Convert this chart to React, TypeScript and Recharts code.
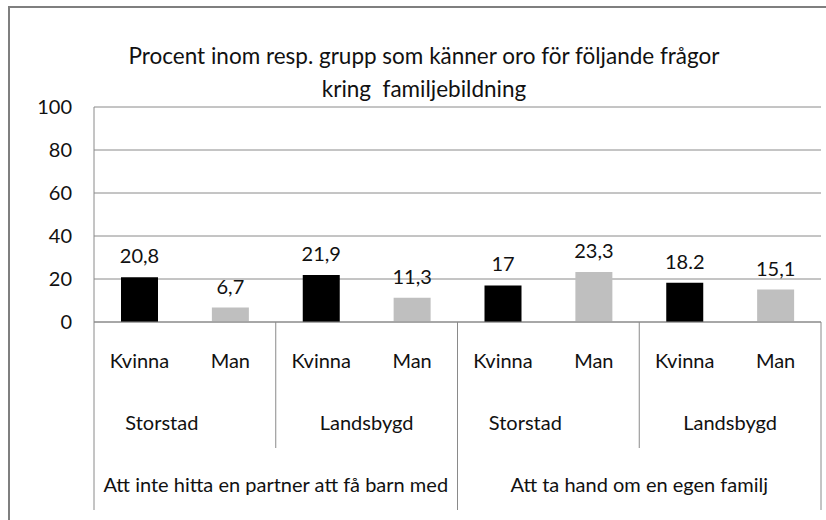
import React from "react";
import { BarChart, Bar, XAxis, YAxis, CartesianGrid, Cell, LabelList } from "recharts";

const genders = ["Kvinna", "Man", "Kvinna", "Man", "Kvinna", "Man", "Kvinna", "Man"];
const areas = ["Storstad", "Landsbygd", "Storstad", "Landsbygd"];
const topics = ["Att inte hitta en partner att få barn med", "Att ta hand om en egen familj"];
const values = [20.8, 6.7, 21.9, 11.3, 17, 23.3, 18.2, 15.1];
const valueLabels = ["20,8", "6,7", "21,9", "11,3", "17", "23,3", "18.2", "15,1"];
const yTicks = [0, 20, 40, 60, 80, 100];
const titleLines = ["Procent inom resp. grupp som känner oro för följande frågor", "kring  familjebildning"];

const W = 826;
const H = 520;
const MARGIN = { top: 107, right: 5, bottom: 0, left: 34 };
const XAXIS_H = 198;
const YAXIS_W = 60;
const PLOT_W = W - MARGIN.left - MARGIN.right - YAXIS_W;
const FONT = "Lato, 'Open Sans', sans-serif";
const FS = 20;
const GRID = "#8a8a8a";
const COLORS: Record<string, string> = { Kvinna: "#000000", Man: "#bfbfbf" };

const data = values.map((v, i) => ({
  key: String(i),
  gender: genders[i],
  area: areas[Math.floor(i / 2)],
  topic: topics[Math.floor(i / 4)],
  value: v,
  label: valueLabels[i],
}));

function XTick(props: any) {
  const { x, y, index } = props;
  const i: number = index ?? props.payload?.index ?? 0;
  const d = data[i];
  const bw = PLOT_W / data.length;
  const txt = { fontFamily: FONT, fontSize: FS, fill: "#111" } as const;
  return (
    <g>
      <text x={x} y={y + 38} textAnchor="middle" dominantBaseline="central" {...txt}>
        {d.gender}
      </text>
      {i % 2 === 0 && (
        <text
          x={x + bw / 2 + (d.area === "Storstad" ? -23 : 0)}
          y={y + 100}
          textAnchor="middle"
          dominantBaseline="central"
          {...txt}
        >
          {d.area}
        </text>
      )}
      {i % 4 === 0 && (
        <text x={x + bw * 1.5} y={y + 162} textAnchor="middle" dominantBaseline="central" {...txt}>
          {d.topic}
        </text>
      )}
      {i % 2 === 0 && (
        <line x1={x - bw / 2} x2={x - bw / 2} y1={y} y2={y + (i % 4 === 0 ? 188 : 126)} stroke={GRID} strokeWidth={1} />
      )}
      {i === data.length - 1 && (
        <line x1={x + bw / 2} x2={x + bw / 2} y1={y} y2={y + 188} stroke={GRID} strokeWidth={1} />
      )}
    </g>
  );
}

function ValueLabel(props: any) {
  const { x, y, width, value } = props;
  return (
    <text
      x={x + width / 2}
      y={y - 22}
      textAnchor="middle"
      dominantBaseline="central"
      fontFamily={FONT}
      fontSize={FS}
      fill="#111"
    >
      {value}
    </text>
  );
}

export default function App() {
  return (
    <div style={{ position: "absolute", left: 0, top: 0, width: W, height: H, overflow: "hidden", background: "#fff" }}>
      <style>{`body{margin:0;overflow:hidden}`}</style>
      <div
        style={{
          position: "absolute",
          left: 8,
          top: 6,
          width: W,
          height: H,
          borderLeft: "2px solid #7f7f7f",
          borderTop: "2px solid #7f7f7f",
        }}
      />
      <div
        style={{
          position: "absolute",
          left: 0,
          top: 39,
          width: 848,
          textAlign: "center",
          fontFamily: FONT,
          fontSize: 22.5,
          lineHeight: "33px",
          color: "#111",
          whiteSpace: "pre",
        }}
      >
        {titleLines.map((t, i) => (
          <div key={i}>{t}</div>
        ))}
      </div>
      <div style={{ position: "absolute", left: 0, top: 0 }}>
        <BarChart width={W} height={H} data={data} margin={MARGIN}>
          <CartesianGrid vertical={false} stroke={GRID} />
          <XAxis
            dataKey="key"
            interval={0}
            tickLine={false}
            tickSize={0}
            tickMargin={0}
            height={XAXIS_H}
            axisLine={{ stroke: GRID }}
            tick={<XTick />}
          />
          <YAxis
            width={YAXIS_W}
            domain={[0, 100]}
            ticks={yTicks}
            tickLine={false}
            tickSize={0}
            tickMargin={22}
            axisLine={{ stroke: GRID }}
            tick={{ fontFamily: FONT, fontSize: FS, fill: "#111" }}
          />
          <Bar dataKey="value" barSize={37} isAnimationActive={false}>
            {data.map((d, i) => (
              <Cell key={i} fill={COLORS[d.gender]} />
            ))}
            <LabelList dataKey="label" content={<ValueLabel />} />
          </Bar>
        </BarChart>
      </div>
    </div>
  );
}
